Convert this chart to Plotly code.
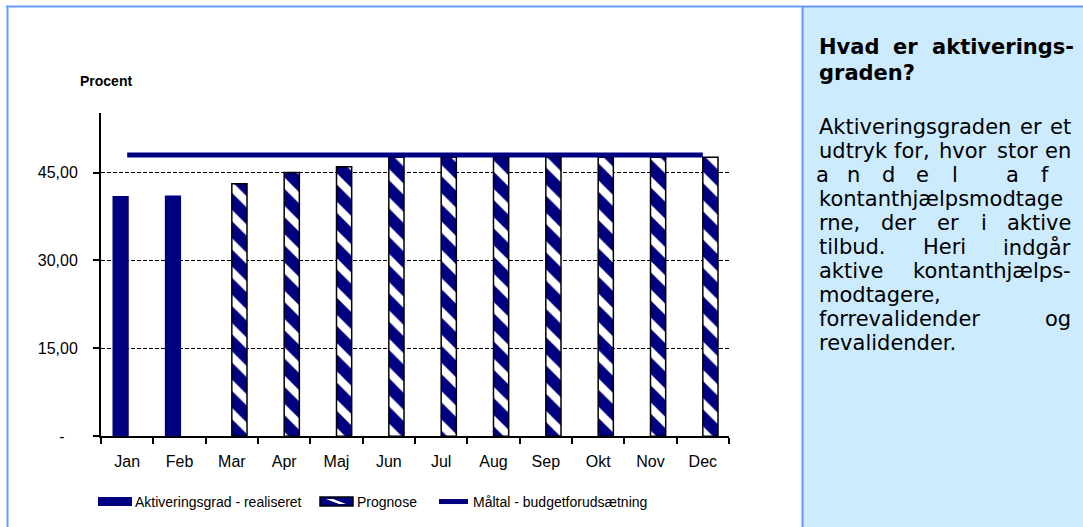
import plotly.graph_objects as go

W, H = 1083, 527
H_EFF = 519  # observed effective vertical extent of the rendered page

months = ["Jan", "Feb", "Mar", "Apr", "Maj", "Jun", "Jul", "Aug", "Sep", "Okt", "Nov", "Dec"]
realiseret = [41.0, 41.1, None, None, None, None, None, None, None, None, None, None]
prognose = [None, None, 43.1, 45.0, 46.0, 47.6, 47.6, 47.6, 47.6, 47.6, 47.6, 47.6]
maaltal = [48.0, 48.0, 48.0, 48.0, 48.0, 48.0, 48.0, 48.0, 48.0, 48.0, 48.0, 48.0]

y_tickvals = [0, 15, 30, 45]
y_ticktext = ["-\u00a0\u00a0\u00a0", "15,00", "30,00", "45,00"]

legend_names = ["Aktiveringsgrad - realiseret", "Prognose", "Måltal - budgetforudsætning"]

heading = "Hvad er aktiverings- graden?"
body_lines = [
    "Aktiveringsgraden er et",
    "udtryk for, hvor stor en",
    "a n d e l a f",
    "kontanthjælpsmodtage",
    "rne, der er i aktive",
    "tilbud. Heri indgår",
    "aktive kontanthjælps-",
    "modtagere,",
    "forrevalidender og",
    "revalidender.",
]

NAVY = "#000080"
BORDER = "#6699FF"
PANEL = "#CCEBFF"
CHART_FONT = "Liberation Sans, Arial"


def px(x):
    return x / W


def py(y):
    return 1 - y / H_EFF


fig = go.Figure()

fig.add_trace(go.Bar(
    x=months, y=realiseret, name=legend_names[0], width=0.31, offset=-0.28, opacity=1,
    marker=dict(color=NAVY, line=dict(width=0)),
))
fig.add_trace(go.Bar(
    x=months, y=prognose, name=legend_names[1], width=0.29, offset=0.0, opacity=1,
    marker=dict(color=NAVY, line=dict(color="black", width=1.5),
                pattern=dict(shape="\\", fgcolor="white", bgcolor=NAVY, fgopacity=1,
                             size=20, solidity=0.4)),
))
fig.add_trace(go.Scatter(
    x=months, y=maaltal, name=legend_names[2], mode="lines",
    line=dict(color=NAVY, width=5),
))

shapes = []
annotations = []

# frame and side panel
shapes.append(dict(type="rect", xref="paper", yref="paper", x0=px(802), x1=1, y0=-0.05, y1=py(6),
                   fillcolor=PANEL, line=dict(width=0), layer="below"))
shapes.append(dict(type="line", xref="paper", yref="paper", x0=px(6), x1=1, y0=py(6.5), y1=py(6.5),
                   line=dict(color=BORDER, width=2)))
shapes.append(dict(type="line", xref="paper", yref="paper", x0=px(7.5), x1=px(7.5), y0=-0.05, y1=py(6),
                   line=dict(color=BORDER, width=2)))
shapes.append(dict(type="line", xref="paper", yref="paper", x0=px(802.5), x1=px(802.5), y0=-0.05, y1=py(6),
                   line=dict(color=BORDER, width=2)))

# axis title
annotations.append(dict(text="<b>Procent</b>", xref="paper", yref="paper", x=px(106), y=py(81),
                        xanchor="center", yanchor="middle", showarrow=False,
                        font=dict(family=CHART_FONT, size=14, color="black")))

# custom legend
LY = 502.5
shapes.append(dict(type="rect", xref="paper", yref="paper", x0=px(98), x1=px(132), y0=py(498), y1=py(507),
                   fillcolor=NAVY, line=dict(width=0)))
shapes.append(dict(type="rect", xref="paper", yref="paper", x0=px(320), x1=px(353), y0=py(498), y1=py(507),
                   fillcolor=NAVY, line=dict(color="black", width=1.5)))
shapes.append(dict(type="path", xref="paper", yref="paper",
                   path="M %f,%f L %f,%f L %f,%f L %f,%f Z" % (px(326), py(500), px(333), py(500), px(346), py(505), px(339), py(505)),
                   fillcolor="white", line=dict(width=0)))
shapes.append(dict(type="line", xref="paper", yref="paper", x0=px(439), x1=px(468), y0=py(LY), y1=py(LY),
                   line=dict(color=NAVY, width=5)))
for name, x0 in zip(legend_names, [133, 355, 471]):
    annotations.append(dict(text=name, xref="paper", yref="paper", x=px(x0), y=py(LY), xanchor="left",
                            yanchor="middle", showarrow=False,
                            font=dict(family=CHART_FONT, size=14, color="black")))

# panel text (justified by placing words)
PF = "DejaVu Sans, Verdana"
FS = 21
L, R = 817, 1073


def word(t, x, y, anchor, bold=False):
    annotations.append(dict(text=("<b>%s</b>" % t) if bold else t, xref="paper", yref="paper",
                            x=px(x), y=py(y), xanchor=anchor, yanchor="middle", showarrow=False,
                            font=dict(family=PF, size=FS, color="black")))


hw = heading.split(" ")
word(hw[0], L, 47, "left", True)
word(hw[1], 905, 47, "center", True)
word(hw[2], R + 3, 47, "right", True)
word(hw[3], L, 73, "left", True)

y0, dy = 127, 24.1
for i, line in enumerate(body_lines):
    y = y0 + i * dy
    ws = line.split(" ")
    if i == 0:
        word(ws[0], L, y, "left")
        word(ws[1], 1031, y, "center")
        word(ws[2], R, y, "right")
    elif i == 1:
        word(ws[0], L, y, "left")
        word(ws[1], 912, y, "center")
        word(ws[2], 963, y, "center")
        word(ws[3], 1017, y, "center")
        word(ws[4], R, y, "right")
    elif i == 2:
        for ch, xc in zip(ws, [822, 853, 888, 922, 955, 1012, 1045]):
            word(ch, xc, y, "center")
    elif i == 4:
        word(ws[0], L, y, "left")
        word(ws[1], 898, y, "center")
        word(ws[2], 948, y, "center")
        word(ws[3], 984, y, "center")
        word(ws[4], R, y, "right")
    elif i == 5:
        word(ws[0], L, y, "left")
        word(ws[1], 944, y, "center")
        word(ws[2], R, y, "right")
    elif i in (6, 8):
        word(ws[0], L, y, "left")
        word(ws[1], R, y, "right")
    else:
        word(line, L, y, "left")

fig.update_layout(
    width=W, height=H, autosize=False,
    margin=dict(l=0, r=0, t=0, b=0),
    paper_bgcolor="white", plot_bgcolor="rgba(0,0,0,0)",
    barmode="overlay", showlegend=False,
    shapes=shapes, annotations=annotations,
    font=dict(family=CHART_FONT, color="black"),
    xaxis=dict(domain=[px(101), px(729)], type="category", tickson="boundaries",
               ticks="outside", ticklen=6, tickwidth=1.5, tickcolor="black",
               showline=True, linecolor="black", linewidth=2, showgrid=False,
               tickfont=dict(size=16, color="black"), ticklabelstandoff=10, fixedrange=True),
    yaxis=dict(domain=[py(437), py(113)], range=[0, 55.2],
               tickvals=y_tickvals, ticktext=y_ticktext,
               ticks="outside", ticklen=6, tickwidth=1.5, tickcolor="black",
               showline=True, linecolor="black", linewidth=2,
               showgrid=True, gridcolor="black", gridwidth=1, griddash="4px,2px",
               zeroline=False, tickfont=dict(size=16, color="black"), ticklabelstandoff=12,
               fixedrange=True),
)

post = (
    "document.documentElement.style.margin='0';"
    "document.documentElement.style.overflow='hidden';"
    "document.body.style.margin='0';"
    "document.body.style.padding='0';"
    "document.body.style.overflow='hidden';"
)

fig.write_html("out.html", config={"displayModeBar": False}, post_script=post)
